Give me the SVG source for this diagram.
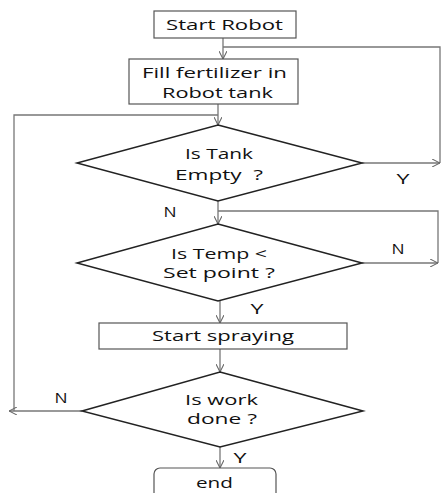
<svg xmlns="http://www.w3.org/2000/svg" width="444" height="493" viewBox="0 0 444 493">
  <defs>
    <marker id="arrow" viewBox="0 0 10 10" refX="10" refY="5" markerWidth="8" markerHeight="8" markerUnits="userSpaceOnUse" orient="auto">
      <polyline points="0,0 10,5 0,10" fill="none" stroke="#666" stroke-width="1.3"/>
    </marker>
  </defs>
  <style>
    .box { fill: #fff; stroke: #555; stroke-width: 1.2; }
    .dia { fill: #fff; stroke: #222; stroke-width: 1.5; }
    .lbl { font-family: "Open Sans", "Liberation Sans", sans-serif; font-size: 15px; fill: #111; text-anchor: middle; }
    .yn { font-family: "Open Sans", "Liberation Sans", sans-serif; font-size: 15px; fill: #111; text-anchor: middle; }
    .wire { fill: none; stroke: #777; stroke-width: 1.3; }
  </style>
  <rect width="444" height="493" fill="#fff"/>

  <g id="connectors">
    <!-- start -> fill -->
    <line class="wire" x1="223" y1="38" x2="223" y2="59" marker-end="url(#arrow)"/>
    <!-- tank empty Y: back to fill -->
    <polyline class="wire" points="223,47 440,47 440,163"/>
    <line class="wire" x1="362" y1="163" x2="440" y2="163" marker-end="url(#arrow)"/>
    <!-- fill -> tank empty -->
    <line class="wire" x1="218" y1="104" x2="218" y2="125" marker-end="url(#arrow)"/>
    <!-- work done N: loop on left -->
    <polyline class="wire" points="218,115 14,115 14,411"/>
    <line class="wire" x1="82" y1="411" x2="9" y2="411" marker-end="url(#arrow)"/>
    <!-- tank empty N -> temp -->
    <line class="wire" x1="218" y1="201" x2="218" y2="224" marker-end="url(#arrow)"/>
    <!-- temp N loop -->
    <polyline class="wire" points="218,211 438,211 438,263"/>
    <line class="wire" x1="362" y1="263" x2="438" y2="263" marker-end="url(#arrow)"/>
    <!-- temp Y -> spraying -->
    <line class="wire" x1="220" y1="301" x2="220" y2="323" marker-end="url(#arrow)"/>
    <!-- spraying -> work done -->
    <line class="wire" x1="220" y1="349" x2="220" y2="372" marker-end="url(#arrow)"/>
    <!-- work done Y -> end -->
    <line class="wire" x1="220" y1="447" x2="220" y2="468" marker-end="url(#arrow)"/>
  </g>

  <g id="start-robot">
    <rect class="box" x="154" y="11" width="142" height="27"/>
    <text class="lbl" x="224.5" y="30" textLength="117" lengthAdjust="spacingAndGlyphs">Start Robot</text>
  </g>

  <g id="fill-tank">
    <rect class="box" x="129" y="59" width="169" height="45"/>
    <text class="lbl" x="214.5" y="78" textLength="145" lengthAdjust="spacingAndGlyphs">Fill fertilizer in</text>
    <text class="lbl" x="217.5" y="98" textLength="111" lengthAdjust="spacingAndGlyphs">Robot tank</text>
  </g>

  <g id="tank-empty">
    <polygon class="dia" points="218,125 362,163 218,201 77,163"/>
    <text class="lbl" x="219" y="159" textLength="68" lengthAdjust="spacingAndGlyphs">Is Tank</text>
    <text class="lbl" x="219" y="180" textLength="88" lengthAdjust="spacingAndGlyphs" xml:space="preserve">Empty  ?</text>
  </g>

  <g id="temp-check">
    <polygon class="dia" points="218,224 362,263 218,301 77,263"/>
    <text class="lbl" x="219" y="259" textLength="96" lengthAdjust="spacingAndGlyphs">Is Temp &lt;</text>
    <text class="lbl" x="219" y="278" textLength="112" lengthAdjust="spacingAndGlyphs">Set point ?</text>
  </g>

  <g id="start-spraying">
    <rect class="box" x="99" y="323" width="248" height="26"/>
    <text class="lbl" x="223" y="341" textLength="142" lengthAdjust="spacingAndGlyphs">Start spraying</text>
  </g>

  <g id="work-done">
    <polygon class="dia" points="220,372 363,411 220,447 82,411"/>
    <text class="lbl" x="221.5" y="405" textLength="73" lengthAdjust="spacingAndGlyphs">Is work</text>
    <text class="lbl" x="222" y="424" textLength="70" lengthAdjust="spacingAndGlyphs">done ?</text>
  </g>

  <g id="end">
    <rect class="box" x="154" y="468" width="122" height="40" rx="6" stroke="#222" stroke-width="1.5"/>
    <text class="lbl" x="214.5" y="488" textLength="37" lengthAdjust="spacingAndGlyphs">end</text>
  </g>

  <g id="branch-labels">
    <text class="yn" x="403" y="184" textLength="13" lengthAdjust="spacingAndGlyphs">Y</text>
    <text class="yn" x="170" y="217" textLength="13" lengthAdjust="spacingAndGlyphs">N</text>
    <text class="yn" x="398" y="254" textLength="13" lengthAdjust="spacingAndGlyphs">N</text>
    <text class="yn" x="257" y="314" textLength="13" lengthAdjust="spacingAndGlyphs">Y</text>
    <text class="yn" x="61" y="403" textLength="13" lengthAdjust="spacingAndGlyphs">N</text>
    <text class="yn" x="240" y="463" textLength="13" lengthAdjust="spacingAndGlyphs">Y</text>
  </g>
</svg>
